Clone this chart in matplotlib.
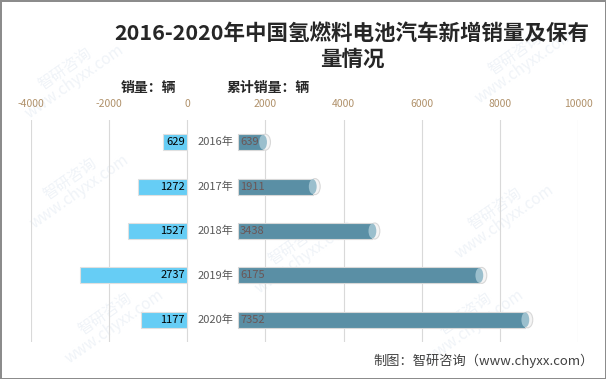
import numpy as np
import matplotlib.pyplot as plt
from matplotlib.patches import Ellipse

plt.rcParams['font.family'] = ['Noto Sans CJK SC', 'DejaVu Sans']
plt.rcParams['axes.unicode_minus'] = False

# 数据
years = ['2016年', '2017年', '2018年', '2019年', '2020年']
sales = [629, 1272, 1527, 2737, 1177]
stock = [639, 1911, 3438, 6175, 7352]
offset = 1300  # 右侧柱子起点(留出年份标签位置)

c_left = '#66cdf5'
c_right = '#5a8fa5'

fig = plt.figure(figsize=(6.06, 3.79), dpi=100)
fig.patch.set_edgecolor('#8c8c8c')
fig.patch.set_linewidth(2)

# 水印(放在底层)
bg = fig.add_axes([0, 0, 1, 1], zorder=-1)
bg.axis('off')
for (wx, wy) in [(70, 75), (520, 60), (75, 185), (300, 250),
                 (500, 215), (110, 320), (470, 320)]:
    bg.text(wx/606, 1-wy/379, '智研咨询\nwww.chyxx.com', ha='center', va='center',
            fontsize=11, color='#d3deeb', alpha=0.35, rotation=35,
            linespacing=0.9, transform=bg.transAxes)

ax = fig.add_axes([31/606, 1-342/379, (578-31)/606, 222/379], zorder=1)

y = np.arange(len(years))
h = 0.36

ax.barh(y, [-v for v in sales], height=h, color=c_left, edgecolor='#e0e0e0',
        linewidth=0.8, zorder=3)
ax.barh(y, stock, left=offset, height=h, color=c_right, edgecolor='#d8d8d8',
        linewidth=0.8, zorder=3)

# 柱子端部的圆柱效果
for i, v in enumerate(stock):
    ax.add_patch(Ellipse((offset + v + 60, i), 260, h, facecolor='#f4f4f4',
                         edgecolor='#d8d8d8', linewidth=0.8, zorder=2))
    ax.add_patch(Ellipse((offset + v, i), 200, h * 0.92, facecolor='#9bbfcd',
                         edgecolor='none', zorder=4))

for i in range(len(years)):
    ax.text(-60, i, str(sales[i]), ha='right', va='center', fontsize=8,
            color='black', zorder=5)
    ax.text(offset + 50, i, str(stock[i]), ha='left', va='center', fontsize=8,
            color='#6b5656', zorder=5)
    ax.text(720, i, years[i], ha='center', va='center', fontsize=8,
            color='#595959', zorder=5)

ax.set_xlim(-4000, 10000)
ax.set_ylim(4.5, -0.5)
ax.set_xticks(np.arange(-4000, 10001, 2000))
ax.set_yticks([])
ax.xaxis.tick_top()
ax.tick_params(axis='x', length=0, labelsize=7.5, labelcolor='#b0916a', pad=8)
for s in ax.spines.values():
    s.set_visible(False)
ax.set_facecolor('none')
ax.grid(axis='x', color='#d9d9d9', linewidth=0.8, zorder=0)

fig.text(352/606, 1-33/379, '2016-2020年中国氢燃料电池汽车新增销量及保有', ha='center',
         va='center', fontsize=15.5, fontweight='bold', color='#262626')
fig.text(352/606, 1-59/379, '量情况', ha='center', va='center', fontsize=15.5,
         fontweight='bold', color='#262626')
fig.text(148/606, 1-88/379, '销量：辆', ha='center', va='center', fontsize=10,
         fontweight='bold', color='#262626')
fig.text(268/606, 1-88/379, '累计销量：辆', ha='center', va='center', fontsize=10,
         fontweight='bold', color='#262626')
fig.text(594/606, 1-361/379, '制图：智研咨询（www.chyxx.com）', ha='right',
         va='center', fontsize=9.5, color='#404040')

fig.savefig('out.png', dpi=100)
